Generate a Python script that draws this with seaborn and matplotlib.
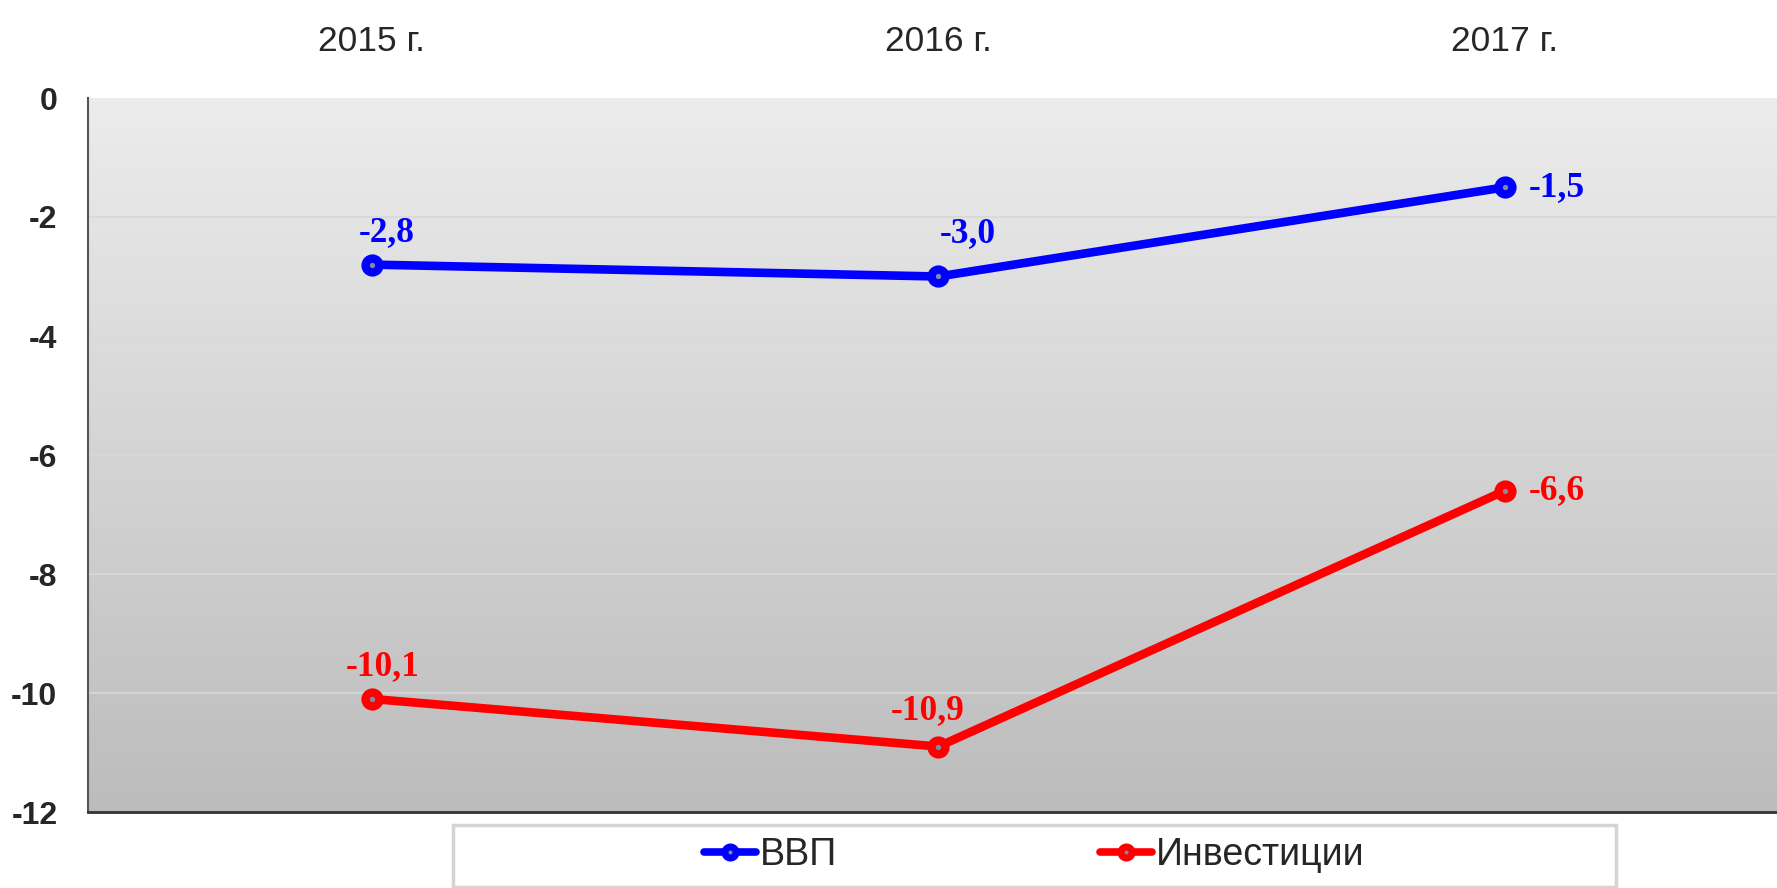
import numpy as np
import pandas as pd
import matplotlib
matplotlib.use("Agg")
import matplotlib.pyplot as plt
from matplotlib.patches import Rectangle
from matplotlib.colors import LinearSegmentedColormap
import seaborn as sns

# ---- data ----
years = ["2015 г.", "2016 г.", "2017 г."]
gdp = [-2.8, -3.0, -1.5]
invest = [-10.1, -10.9, -6.6]
series_names = ["ВВП", "Инвестиции"]
y_ticks = [0, -2, -4, -6, -8, -10, -12]

sns.set_theme(style="white")
sans = "Liberation Sans"
serif = "Liberation Serif"
plt.rcParams["font.family"] = [sans, "DejaVu Sans"]

colors = ["#0000ff", "#ff0000"]

df = pd.DataFrame({
    "year": years * 2,
    "value": gdp + invest,
    "series": [series_names[0]] * 3 + [series_names[1]] * 3,
})

fig = plt.figure(figsize=(17.77, 8.88), dpi=100)
ax = fig.add_axes([88 / 1777, 76 / 888, 1 - 88 / 1777, 714 / 888])

# gradient background
grad = np.linspace(0, 1, 256).reshape(-1, 1)
cmap = LinearSegmentedColormap.from_list("bg", ["#ececec", "#bcbcbc"])
ax.imshow(grad, extent=[0, 1, 0, 1], transform=ax.transAxes, aspect="auto",
          cmap=cmap, zorder=0, origin="upper")

sns.lineplot(data=df, x="year", y="value", hue="series",
             palette=colors, marker="o", linewidth=6.2,
             markersize=10, markeredgewidth=6, markerfacecolor="#7f8c9a",
             ax=ax, zorder=3, legend=True)
for ln in ax.get_lines():
    ln.set_markeredgecolor(ln.get_color())

ax.set_xlim(-0.501, 2.48)
ax.set_ylim(-12, 0)
ax.set_yticks(y_ticks)
ax.set_yticklabels([str(t) for t in y_ticks], fontsize=23, fontweight="bold")
ax.tick_params(axis="y", length=0, pad=22)
ax.xaxis.tick_top()
ax.tick_params(axis="x", length=0, pad=29, labelsize=25.5)
ax.set_xlabel("")
ax.set_ylabel("")
for yv in y_ticks[1:-1]:
    ax.axhline(yv, color="#d9d9d9", lw=1.2, zorder=1)

for s in ["top", "right"]:
    ax.spines[s].set_visible(False)
ax.spines["left"].set_color("#555555")
ax.spines["left"].set_linewidth(1.5)
ax.spines["bottom"].set_color("#333333")
ax.spines["bottom"].set_linewidth(2)

# data labels
offs = [[(11, 23), (21, 31), (17, 0)], [(8, 23), (-8, 26), (17, 0)]]
has = ["center", "center", "left"]
for k, vals in enumerate([gdp, invest]):
    for i, v in enumerate(vals):
        ax.annotate(f"{v:.1f}".replace(".", ","), (i, v), xytext=offs[k][i],
                    textcoords="offset points", ha=has[i], va="center",
                    color=colors[k], fontsize=25.5, fontweight="bold",
                    family=[serif, "DejaVu Serif"], zorder=5)

# legend
handles, labels = ax.get_legend_handles_labels()
ax.get_legend().remove()
for h in handles:
    h.set_markersize(8)
    h.set_markeredgewidth(5)
    h.set_linewidth(5.5)
    h.set_markeredgecolor(h.get_color())
fig.patches.append(Rectangle((453 / 1777, (888 - 887) / 888), (1616 - 453) / 1777,
                             62 / 888, transform=fig.transFigure,
                             facecolor="white", edgecolor="#d4d4d4", lw=2.5,
                             zorder=0))
fig.legend(handles, labels, loc="center", bbox_to_anchor=(1034 / 1777, 1 - 855 / 888),
           ncol=2, frameon=False, fontsize=27, handlelength=1.4,
           handletextpad=0.1, columnspacing=7.0)

fig.savefig("out.png", dpi=100)
